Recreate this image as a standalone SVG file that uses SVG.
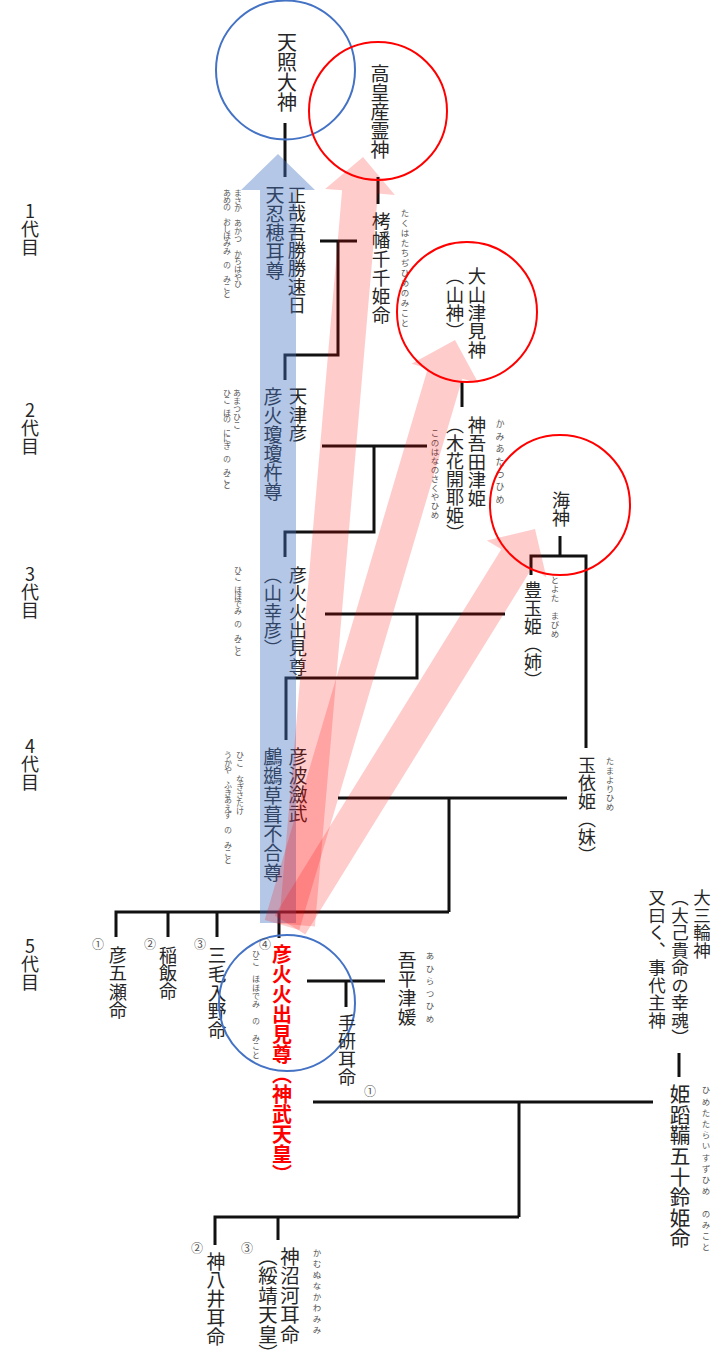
<svg xmlns="http://www.w3.org/2000/svg" width="728" height="1361" viewBox="0 0 728 1361">
<style>
.n{font-family:"Noto Sans CJK JP","Noto Sans",sans-serif;writing-mode:vertical-rl;fill:#262626;font-size:18.5px}
.r{font-family:"Noto Sans CJK JP","Noto Sans",sans-serif;writing-mode:vertical-rl;fill:#555;font-size:8px}
.g{font-family:"Noto Sans CJK JP","Noto Sans",sans-serif;writing-mode:vertical-rl;text-orientation:upright;fill:#262626;font-size:18px}
.c{font-family:"Noto Sans CJK JP","Noto Sans",sans-serif;fill:#555;font-size:12px;text-anchor:middle;dominant-baseline:central}
.ln{stroke:#111;stroke-width:3;fill:none}
.cb{fill:none;stroke:#4472c4;stroke-width:2}
.cr{fill:none;stroke:#ff0000;stroke-width:2}
.ab{fill:#4472c4;fill-opacity:0.4}
.ar{fill:#ff0000;fill-opacity:0.2}
.jm{fill:#ff0000;font-weight:700;font-size:20px}
</style>
<rect width="728" height="1361" fill="#fff"/>

<g id="generations">
<text class="g" x="30" y="202">1代目</text>
<text class="g" x="30" y="401">2代目</text>
<text class="g" x="30" y="565">3代目</text>
<text class="g" x="30" y="737">4代目</text>
<text class="g" x="30" y="937">5代目</text>
</g>

<g id="connectors">
<path class="ln" d="M285,123 V177"/>
<path class="ln" d="M378,177 V204"/>
<path class="ln" d="M320,241 H357"/>
<path class="ln" d="M338,241 V355 H285 V380"/>
<path class="ln" d="M322,446 H427"/>
<path class="ln" d="M374,446 V532 H285 V557"/>
<path class="ln" d="M462,382 V407"/>
<path class="ln" d="M560,536 V556"/>
<path class="ln" d="M531,575 V556 H586 V748"/>
<path class="ln" d="M325,614 H505"/>
<path class="ln" d="M417,614 V678 H286 V740"/>
<path class="ln" d="M338,798 H567"/>
<path class="ln" d="M449,798 V912"/>
<path class="ln" d="M116,937 V912 H449"/>
<path class="ln" d="M168,912 V937 M217,912 V937 M279,912 V938"/>
<path class="ln" d="M307,981 H385"/>
<path class="ln" d="M346,981 V1007"/>
<path class="ln" d="M679,1053 V1077"/>
<path class="ln" d="M313,1102 H653"/>
<path class="ln" d="M519,1102 V1217"/>
<path class="ln" d="M215,1245 V1217 H519"/>
<path class="ln" d="M278,1217 V1240"/>
</g>

<g id="n-amaterasu">
<circle class="cb" cx="285.5" cy="70" r="69.5"/>
<text class="n" x="287" y="32" style="font-size:20px">天照大神</text>
</g>
<g id="n-takamimusubi">
<circle class="cr" cx="378" cy="111" r="69"/>
<text class="n" x="380" y="64" style="font-size:19px">高皇産霊神</text>
</g>
<g id="n-oshihomimi">
<text class="n" x="297" y="186" style="font-size:18.3px">正哉吾勝勝速日</text>
<text class="n" x="275" y="185" style="font-size:19px">天忍穂耳尊</text>
<text class="r" x="238" y="189" letter-spacing="-0.4">まさか　あかつ　かちはやひ</text>
<text class="r" x="227" y="189" letter-spacing="-0.8">あめの　おしほみみ　の　みこと</text>
</g>
<g id="n-takuhatachiji">
<text class="n" x="381" y="212" style="font-size:18.7px">栲幡千千姫命</text>
<text class="r" x="405" y="209" style="font-size:8.5px" letter-spacing="1.5">たくはたちぢひめのみこと</text>
</g>
<g id="n-oyamatsumi">
<circle class="cr" cx="467" cy="312" r="70"/>
<text class="n" x="477" y="267" style="font-size:18.4px">大山津見神</text>
<text class="n" x="455" y="267" style="font-size:18.4px">（山神）</text>
</g>
<g id="n-ninigi">
<text class="n" x="298" y="387">天津彦</text>
<text class="n" x="273" y="387" style="font-size:19px">彦火瓊瓊杵尊</text>
<text class="r" x="237" y="389">あまつひこ</text>
<text class="r" x="227" y="389" letter-spacing="-1.4">ひこ　ほの　ににぎ　の　みこと</text>
</g>
<g id="n-kamuatatsu">
<text class="n" x="477" y="416" style="font-size:18.3px">神吾田津姫</text>
<text class="n" x="455" y="416" style="font-size:18px">（木花開耶姫）</text>
<text class="r" x="500" y="419" style="font-size:9px" letter-spacing="3.7">かみあたつひめ</text>
<text class="r" x="435" y="429" style="font-size:8.5px" letter-spacing="0.6">このはなのさくやひめ</text>
</g>
<g id="n-watatsumi">
<circle class="cr" cx="560" cy="505" r="70"/>
<text class="n" x="561" y="491" style="font-size:18px">海神</text>
</g>
<g id="n-hohodemi">
<text class="n" x="298" y="566" style="font-size:18.3px">彦火火出見尊</text>
<text class="n" x="273" y="566" style="font-size:18.3px">（山幸彦）</text>
<text class="r" x="238" y="566" letter-spacing="-1.2">ひこ　ほほでみ　の　みこと</text>
</g>
<g id="n-toyotama">
<text class="n" x="533" y="581" style="font-size:18px">豊玉姫（姉）</text>
<text class="r" x="555" y="576" style="font-size:8.5px" letter-spacing="0.4">とよた　まびめ</text>
</g>
<g id="n-ugaya">
<text class="n" x="298" y="747" style="font-size:19px">彦波瀲武</text>
<text class="n" x="273" y="747" style="font-size:19.3px">鸕鷀草葺不合尊</text>
<text class="r" x="240" y="751">ひこ　なぎさたけ</text>
<text class="r" x="228" y="751" letter-spacing="-0.5">うかや　ふきあえず　の　みこと</text>
</g>
<g id="n-tamayori">
<text class="n" x="587" y="756" style="font-size:18px">玉依姫（妹）</text>
<text class="r" x="610" y="757" style="font-size:8.5px" letter-spacing="0.7">たまよりひめ</text>
</g>
<g id="n-itsuse">
<text class="c" x="98" y="943">①</text>
<text class="n" x="118" y="946" style="font-size:18.3px">彦五瀬命</text>
</g>
<g id="n-inahi">
<text class="c" x="150" y="943">②</text>
<text class="n" x="168" y="946" style="font-size:18px">稲飯命</text>
</g>
<g id="n-mikeirino">
<text class="c" x="200" y="943">③</text>
<text class="n" x="217" y="946" style="font-size:18.6px">三毛入野命</text>
</g>
<g id="n-jimmu">
<circle class="cb" cx="287" cy="1003" r="68"/>
<text class="c" x="265" y="943">④</text>
<text class="n jm" x="282" y="944">彦火火出見尊（神武天皇）</text>
<text class="r" x="256" y="950" letter-spacing="0.4">ひこ　ほほでみ　の　みこと</text>
</g>
<g id="n-ahiratsu">
<text class="n" x="407" y="951" style="font-size:18.7px">吾平津媛</text>
<text class="r" x="430" y="952" style="font-size:8.5px" letter-spacing="4">あひらつひめ</text>
</g>
<g id="n-tagishimimi">
<text class="n" x="347" y="1014" style="font-size:18px">手研耳命</text>
<text class="c" x="370" y="1090">①</text>
</g>
<g id="n-omiwa">
<text class="n" x="702" y="889" style="font-size:17.5px">大三輪神</text>
<text class="n" x="680" y="889" style="font-size:17.5px">（大己貴命の幸魂）</text>
<text class="n" x="657" y="889" style="font-size:17.5px">又曰く、事代主神</text>
</g>
<g id="n-himetatara">
<text class="n" x="680" y="1084" style="font-size:20.6px">姫蹈鞴五十鈴姫命</text>
<text class="r" x="706" y="1086" style="font-size:8.5px" letter-spacing="2.7">ひめたたらいすずひめ　のみこと</text>
</g>
<g id="n-kamuyaimimi">
<text class="c" x="197" y="1247">②</text>
<text class="n" x="216" y="1252" style="font-size:18.8px">神八井耳命</text>
</g>
<g id="n-kamununakawamimi">
<text class="c" x="247" y="1247">③</text>
<text class="n" x="290" y="1247" style="font-size:19.4px">神沼河耳命</text>
<text class="n" x="268" y="1247" style="font-size:19.4px">（綏靖天皇）</text>
<text class="r" x="317" y="1249" style="font-size:8.5px" letter-spacing="2.5">かむぬなかわみみ</text>
</g>

<g id="arrows">
<polygon class="ab" points="278,154 315,190 296,190 296,923 260,923 260,190 241,190"/>
<polygon class="ar" points="363,157 394.9,194.9 377.9,193.4 314.9,926.5 279.1,923.5 342.1,190.3 325.1,188.9"/>
<polygon class="ar" points="455,340 478.6,383.5 462.3,378.7 299.3,930.1 264.7,919.9 427.8,368.5 411.5,363.7"/>
<polygon class="ar" points="535,529 546.4,577.2 531.9,568.3 305.3,934.5 274.7,915.5 501.3,549.3 486.8,540.4"/>
</g>
</svg>
